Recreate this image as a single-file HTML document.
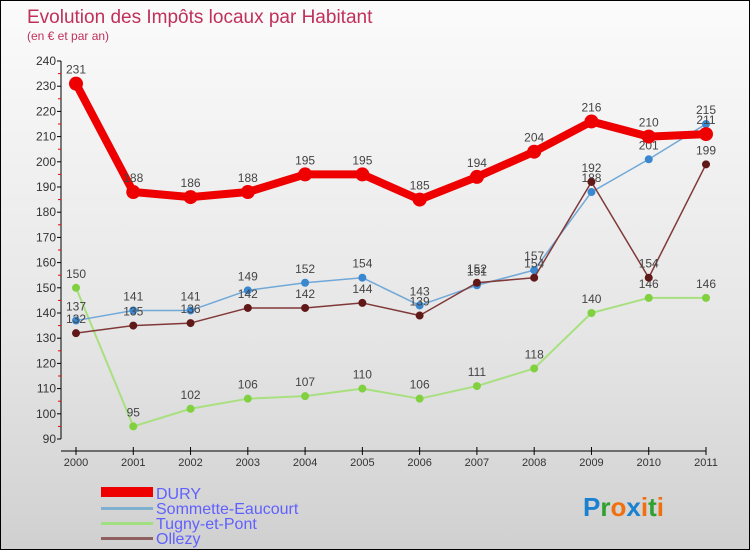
<!DOCTYPE html>
<html><head><meta charset="utf-8"><style>
body{margin:0}
#wrap{position:relative;width:748px;height:548px;border:1px solid #000;background:linear-gradient(#fbfbfb,#e6e6e6 60%,#d0d0d0);font-family:"Liberation Sans",sans-serif;overflow:hidden}
</style></head><body>
<div id="wrap">
<svg id="c" width="748" height="548"></svg>
</div>
<script>
const years=["2000","2001","2002","2003","2004","2005","2006","2007","2008","2009","2010","2011"];
const dury=[231,188,186,188,195,195,185,194,204,216,210,211];
const sommette=[137,141,141,149,152,154,143,151,157,188,201,215];
const tugny=[150,95,102,106,107,110,106,111,118,140,146,146];
const ollezy=[132,135,136,142,142,144,139,152,154,192,154,199];
const yTicks=[90,100,110,120,130,140,150,160,170,180,190,200,210,220,230,240];
const seriesNames=["DURY","Sommette-Eaucourt","Tugny-et-Pont","Ollezy"];
const NS="http://www.w3.org/2000/svg";
const svg=document.getElementById('c');
const X=i=>75+i*(630/11);
const Y=v=>60+(240-v)*2.52;
function mk(t,a,p){const e=document.createElementNS(NS,t);for(const k in a)e.setAttribute(k,a[k]);(p||svg).appendChild(e);return e;}
let t=mk('text',{x:26,y:22,'font-size':19,fill:'#c0305a'});t.textContent="Evolution des Impôts locaux par Habitant";

t=mk('text',{x:26,y:39,'font-size':12,fill:'#c0305a'});t.textContent="(en € et par an)";

let ax=mk('line',{x1:60,y1:Y(240),x2:60,y2:Y(90),stroke:'#000'});

yTicks.forEach(v=>{mk('line',{x1:56,x2:60,y1:Y(v),y2:Y(v),stroke:'#000'});
if(v<240)mk('line',{x1:57,x2:60,y1:Y(v+5),y2:Y(v+5),stroke:'#e00'});
const l=mk('text',{x:55,y:Y(v)+4,'font-size':12,'text-anchor':'end',fill:'#333'});l.textContent=v;
});
ax=mk('line',{x1:60,y1:450,x2:X(11),y2:450,stroke:'#000'});

years.forEach((y,i)=>{mk('line',{x1:X(i),x2:X(i),y1:446,y2:454,stroke:'#000'});
const l=mk('text',{x:X(i),y:465,'font-size':11,'text-anchor':'middle',fill:'#333'});l.textContent=y;
});
function series(d,col,w,r,dot,name){
const g=mk('g',{});
mk('polyline',{points:d.map((v,i)=>X(i)+','+Y(v)).join(' '),fill:'none',stroke:col,'stroke-width':w,'stroke-linejoin':'round'},g);
d.forEach((v,i)=>{const c=mk('circle',{cx:X(i),cy:Y(v),r:r,fill:dot},g);

const l=mk('text',{x:X(i),y:Y(v)-10,'font-size':12,'text-anchor':'middle',fill:'#444'},g);l.textContent=v;
});}
series(tugny,'#a8e080',2,4,'#80d040','tugny');
series(sommette,'#70a8d8',1.5,4,'#3a88d0','sommette');
series(ollezy,'#803838',1.5,4,'#601818','ollezy');
series(dury,'#ee0000',8,7,'#ee0000','dury');
const cols=['#ee0000','#80b0d0','#a0e080','#906060'];
seriesNames.forEach((n,i)=>{const y=492+i*15;
const g=mk('g',{});
mk('rect',{x:100,y:i==0?y-6:y-1,width:52,height:i==0?10:3,fill:cols[i]},g);
const l=mk('text',{x:155,y:y+6,'font-size':16,fill:'#6060ff'},g);l.textContent=n;});
const lg=mk('text',{x:582,y:515,'font-size':26,'font-weight':'bold'});

[['P','#1a80d0'],['r','#30a030'],['o','#f07010'],['x','#1a80d0'],['i','#f07010'],['t','#30a030'],['i','#f07010']].forEach(([c,f])=>{const s=mk('tspan',{fill:f},lg);s.textContent=c;});
</script>
</body></html>
